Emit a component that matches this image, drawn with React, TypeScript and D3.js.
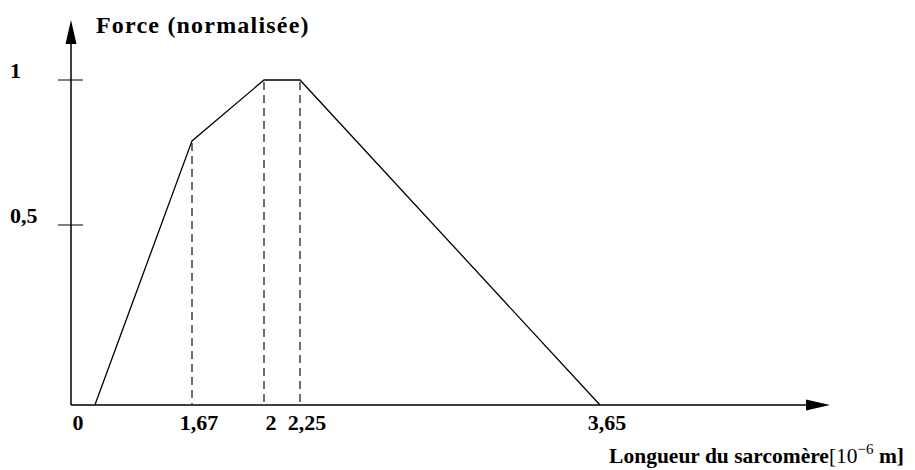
import { useEffect, useRef } from "react";
import * as d3 from "d3";

// schematic force-length relation of a sarcomere (lengths in 10^-6 m)
const lengths = [0.33, 1.67, 2, 2.25, 3.65];
const forces = [0, 0.79, 1, 1, 0];
// points that get a dashed drop line to the x axis
const dropLengths = [1.67, 2, 2.25];
const xTickValues = [0, 1.67, 2, 2.25, 3.65];
const xTickLabels = ["0", "1,67", "2", "2,25", "3,65"];
const yTickValues = [0.5, 1];
const yTickLabels = ["0,5", "1"];

export default function App() {
  const svgRef = useRef<SVGSVGElement | null>(null);

  useEffect(() => {
    if (!svgRef.current) return;
    const W = 915, H = 470;
    const x0 = 71, y0 = 405;

    const svg = d3.select(svgRef.current);
    svg.selectAll("*").remove();
    svg.attr("width", W).attr("height", H).attr("viewBox", `0 0 ${W} ${H}`);

    // the drawing is schematic: the axes are not to scale, so use piecewise scales
    const x = d3.scaleLinear().domain([0, 1.67, 2, 2.25, 3.65]).range([x0, 192, 264, 300, 600]);
    const y = d3.scaleLinear().domain([0, 0.5, 1]).range([y0, 225, 80]);

    const g = svg.append("g");

    // axes with arrow heads
    g.append("line").attr("x1", x0).attr("x2", 808).attr("y1", y0).attr("y2", y0)
      .attr("stroke", "#000").attr("stroke-width", 1.5);
    g.append("path").attr("d", `M830,${y0} L806,${y0 - 5.5} L806,${y0 + 5.5} Z`).attr("fill", "#000");

    g.append("line").attr("x1", x0).attr("x2", x0).attr("y1", y0).attr("y2", 42)
      .attr("stroke", "#000").attr("stroke-width", 1.5);
    g.append("path").attr("d", `M${x0},20 L${x0 - 5.5},44 L${x0 + 5.5},44 Z`).attr("fill", "#000");

    // y ticks
    yTickValues.forEach((v, i) => {
      g.append("line").attr("x1", x0 - 13).attr("x2", x0 + 12).attr("y1", y(v)).attr("y2", y(v))
        .attr("stroke", "#000").attr("stroke-width", 1);
      g.append("text").attr("x", 10).attr("y", y(v) - 2)
        .attr("font-family", "'Liberation Serif', serif").attr("font-weight", "bold")
        .attr("font-size", 22).attr("fill", "#000").text(yTickLabels[i]);
    });

    // x tick labels
    xTickValues.forEach((v, i) => {
      g.append("text").attr("x", x(v) + 7).attr("y", y0 + 25)
        .attr("text-anchor", "middle")
        .attr("font-family", "'Liberation Serif', serif").attr("font-weight", "bold")
        .attr("font-size", 22).attr("fill", "#000").text(xTickLabels[i]);
    });

    // dashed drop lines
    dropLengths.forEach((l) => {
      const f = forces[lengths.indexOf(l)];
      g.append("line").attr("x1", x(l)).attr("x2", x(l)).attr("y1", y(f) + 2).attr("y2", y0)
        .attr("stroke", "#333").attr("stroke-width", 1.4).attr("stroke-dasharray", "8,5");
    });

    // the curve
    const pts = lengths.map((l, i) => [l, forces[i]] as [number, number]);
    const line = d3.line<[number, number]>().x((d) => x(d[0])).y((d) => y(d[1]));
    g.append("path").datum(pts).attr("d", line as any)
      .attr("fill", "none").attr("stroke", "#000").attr("stroke-width", 1.3);

    // titles
    g.append("text").attr("x", 96).attr("y", 33)
      .attr("font-family", "'Liberation Serif', serif").attr("font-weight", "bold")
      .attr("font-size", 24).attr("letter-spacing", 1.2).attr("fill", "#000")
      .text("Force (normalisée)");

    const xl = g.append("text").attr("x", 904).attr("y", 463).attr("text-anchor", "end")
      .attr("font-family", "'Liberation Serif', serif").attr("font-size", 21.5).attr("fill", "#000");
    xl.append("tspan").attr("font-weight", "bold").text("Longueur du sarcomère");
    xl.append("tspan").text("[10");
    xl.append("tspan").attr("font-size", 15).attr("dy", -9).text("−6");
    xl.append("tspan").attr("font-weight", "bold").attr("dy", 9).text(" m]");
  }, []);

  return <svg ref={svgRef} style={{ position: "absolute", left: 0, top: 0, display: "block" }} />;
}
